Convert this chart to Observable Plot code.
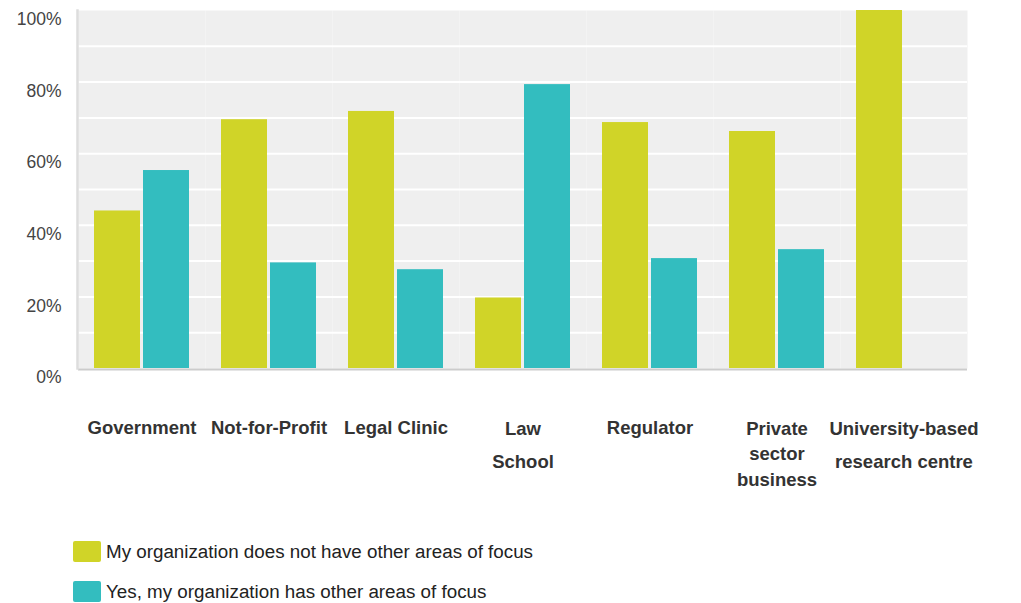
<!DOCTYPE html>
<html><head><meta charset="utf-8">
<script src="https://cdn.jsdelivr.net/npm/d3@7"></script>
<script src="https://cdn.jsdelivr.net/npm/@observablehq/plot@0.6"></script>
<style>
body{margin:0;background:#fff;font-family:"Liberation Sans",Arial,sans-serif;}
#chart svg{display:block;}
#legend{position:absolute;left:73px;top:541px;}
.row{display:flex;align-items:center;height:21px;margin-bottom:19px;font-size:18.8px;color:#222;}
.sw{width:28px;height:21px;border-radius:2px;margin-right:5px;flex:none;}
</style></head><body><div id="chart"></div><div id="legend"></div>
<script>
const categories = ["Government","Not-for-Profit","Legal Clinic","Law School","Regulator","Private sector business","University-based research centre"];
const categoryLabels = ["Government","Not-for-Profit","Legal Clinic","Law\nSchool","Regulator","Private\nsector\nbusiness","University-based\nresearch centre"];
const seriesNames = ["My organization does not have other areas of focus","Yes, my organization has other areas of focus"];
const noOtherFocus = [44,69.5,71.8,19.7,68.7,66.2,100];
const otherFocus = [55.3,29.5,27.6,79.3,30.7,33.2,0];
const yTicks = [0,20,40,60,80,100];
const gridTicks = [10,20,30,40,50,60,70,80,90];
const colors = ["#d0d428","#33bdbf"];

const data = [];
categories.forEach((c,i)=>{
  data.push({category:c, series:seriesNames[0], value:noOtherFocus[i]});
  data.push({category:c, series:seriesNames[1], value:otherFocus[i]});
});
const labelOf = c => categoryLabels[categories.indexOf(c)];
const single = categories.filter(c => !labelOf(c).includes("\n"));
const twoLine = [categories[3], categories[6]];
const threeLine = [categories[5]];
const fxLabels = (list, lh, dy) => Plot.text(list, {fx:d=>d, text:labelOf, frameAnchor:"bottom", lineAnchor:"top", dy, fontSize:18.5, fontWeight:"bold", fill:"#333", lineHeight:lh});

const chart = Plot.plot({
  width:1021, height:520,
  marginLeft:77, marginRight:53, marginTop:10, marginBottom:152,
  style:{fontFamily:"'Liberation Sans', Arial, sans-serif", color:"#444", background:"#fff"},
  fx:{domain:categories, padding:0, axis:null, label:null},
  x:{domain:seriesNames, paddingInner:0.06, paddingOuter:0.303, axis:null},
  y:{domain:[0,100], axis:null},
  color:{domain:seriesNames, range:colors},
  marks:[
    Plot.frame({fill:"#efefef", stroke:"none"}),
    Plot.gridY(gridTicks, {stroke:"#fff", strokeOpacity:1, strokeWidth:2}),
    Plot.barY(data, {fx:"category", x:"series", y:"value", fill:"series"}),
    Plot.ruleY([0], {stroke:"#ccc", strokeWidth:2, dy:1}),
    Plot.frame({anchor:"left", stroke:"#ddd", strokeWidth:2.5, facetAnchor:"left", dx:-1}),
    Plot.axisY(yTicks, {tickSize:0, tickPadding:17, dy:9, tickFormat:d=>d+"%", fontSize:17.5, fill:"#444", label:null}),
    fxLabels(single, 1.2, 50),
    fxLabels(twoLine, 1.8, 43),
    fxLabels(threeLine, 1.39, 48)
  ]
});
document.getElementById("chart").appendChild(chart);

const legend = document.getElementById("legend");
seriesNames.forEach((s,i)=>{
  const row = document.createElement("div"); row.className="row";
  const sw = document.createElement("div"); sw.className="sw"; sw.style.background=colors[i];
  const t = document.createElement("span"); t.textContent=s;
  row.appendChild(sw); row.appendChild(t); legend.appendChild(row);
});
</script></body></html>
